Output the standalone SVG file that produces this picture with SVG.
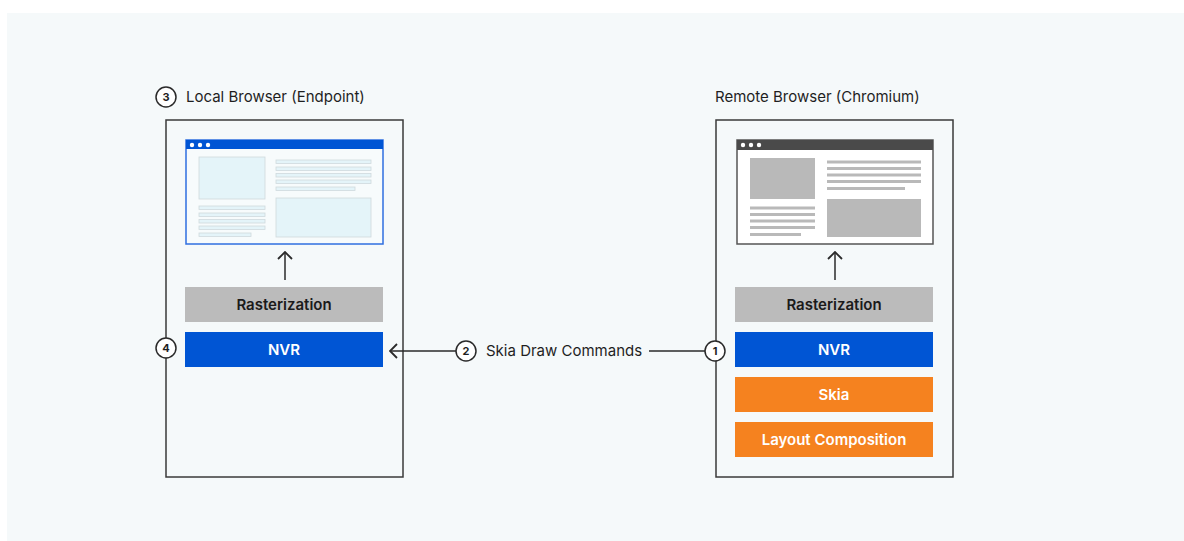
<svg xmlns="http://www.w3.org/2000/svg" width="1184" height="541" viewBox="0 0 1184 541">
<defs>
<style>
.lbl{font-family:Inter,"Liberation Sans",sans-serif;font-size:15px;fill:#1f1f1f}
.btn{font-family:Inter,"Liberation Sans",sans-serif;font-size:15px;font-weight:600;text-anchor:middle}
.num{font-family:Inter,"Liberation Sans",sans-serif;font-size:11px;font-weight:700;text-anchor:middle;fill:#1f1f1f}
.frame{fill:none;stroke:#3a3a3a;stroke-width:1.5}
.circ{fill:#ffffff;stroke:#2a2a2a;stroke-width:1.5}
.conn{fill:none;stroke:#2a2a2a;stroke-width:1.5}
.lb{fill:#e4f4f9;stroke:#cfd9dd;stroke-width:0.8}
.gb{fill:#b9b9b9}
</style>
<marker id="chev" viewBox="0 0 12 16" refX="11" refY="8" markerWidth="12" markerHeight="16" markerUnits="userSpaceOnUse" orient="auto">
<path d="M4,1 L11,8 L4,15" fill="none" stroke="#2a2a2a" stroke-width="1.8"/>
</marker>
</defs>
<rect x="0" y="0" width="1184" height="541" fill="#ffffff"/>
<rect x="7" y="13" width="1177" height="528" fill="#f5f9fa"/>

<g id="local-browser">
<rect class="frame" x="166" y="120" width="237" height="357"/>
<circle class="circ" cx="166" cy="97" r="10"/>
<text class="num" x="166" y="101">3</text>
<text class="lbl" x="186" y="102">Local Browser (Endpoint)</text>
<g id="local-mockup">
<rect x="186" y="140" width="197" height="104" fill="#f7fbfc" stroke="#2f6fe0" stroke-width="1.5"/>
<rect x="186" y="140" width="197" height="9" fill="#0055d4"/>
<circle cx="192" cy="145" r="2.2" fill="#fff"/>
<circle cx="200" cy="145" r="2.2" fill="#fff"/>
<circle cx="208" cy="145" r="2.2" fill="#fff"/>
<rect class="lb" x="199" y="157" width="66" height="42"/>
<rect class="lb" x="199" y="206" width="66" height="3.5"/>
<rect class="lb" x="199" y="213" width="66" height="3.5"/>
<rect class="lb" x="199" y="219.5" width="66" height="3.5"/>
<rect class="lb" x="199" y="226" width="66" height="3.5"/>
<rect class="lb" x="199" y="233" width="52" height="3.5"/>
<rect class="lb" x="276" y="160" width="95" height="3.5"/>
<rect class="lb" x="276" y="167" width="95" height="3.5"/>
<rect class="lb" x="276" y="173.5" width="95" height="3.5"/>
<rect class="lb" x="276" y="180" width="95" height="3.5"/>
<rect class="lb" x="276" y="187" width="79" height="3.5"/>
<rect class="lb" x="276" y="198" width="95" height="39"/>
</g>
<rect x="185" y="287" width="198" height="35" fill="#bbbbbb"/>
<text class="btn" x="284" y="310" fill="#1a1a1a">Rasterization</text>
<rect x="185" y="332" width="198" height="35" fill="#0055d4"/>
<text class="btn" x="284" y="355" fill="#ffffff">NVR</text>
<circle class="circ" cx="166" cy="348" r="10"/>
<text class="num" x="166" y="352">4</text>
</g>

<g id="remote-browser">
<rect class="frame" x="716" y="120" width="237" height="357"/>
<text class="lbl" x="715" y="102">Remote Browser (Chromium)</text>
<g id="remote-mockup">
<rect x="737" y="140" width="196" height="104" fill="#ffffff" stroke="#555555" stroke-width="1.5"/>
<rect x="737" y="140" width="196" height="10" fill="#4a4a4a"/>
<circle cx="743" cy="145" r="2.2" fill="#fff"/>
<circle cx="751" cy="145" r="2.2" fill="#fff"/>
<circle cx="759" cy="145" r="2.2" fill="#fff"/>
<rect class="gb" x="750" y="158" width="65" height="41"/>
<rect class="gb" x="750" y="206.5" width="65" height="3"/>
<rect class="gb" x="750" y="213" width="65" height="3"/>
<rect class="gb" x="750" y="219.5" width="65" height="3"/>
<rect class="gb" x="750" y="226" width="65" height="3"/>
<rect class="gb" x="750" y="233" width="51" height="3"/>
<rect class="gb" x="827" y="160.5" width="94" height="3"/>
<rect class="gb" x="827" y="167" width="94" height="3"/>
<rect class="gb" x="827" y="173.5" width="94" height="3"/>
<rect class="gb" x="827" y="180" width="94" height="3"/>
<rect class="gb" x="827" y="187" width="78" height="3"/>
<rect class="gb" x="827" y="199" width="94" height="38"/>
</g>
<rect x="735" y="287" width="198" height="35" fill="#bbbbbb"/>
<text class="btn" x="834" y="310" fill="#1a1a1a">Rasterization</text>
<rect x="735" y="332" width="198" height="35" fill="#0055d4"/>
<text class="btn" x="834" y="355" fill="#ffffff">NVR</text>
<rect x="735" y="377" width="198" height="35" fill="#f5821f"/>
<text class="btn" x="834" y="400" fill="#ffffff">Skia</text>
<rect x="735" y="422" width="198" height="35" fill="#f5821f"/>
<text class="btn" x="834" y="445" fill="#ffffff">Layout Composition</text>
</g>

<g id="connectors">
<line class="conn" x1="285" y1="280" x2="285" y2="252" marker-end="url(#chev)"/>
<line class="conn" x1="835" y1="280" x2="835" y2="252" marker-end="url(#chev)"/>
<line class="conn" x1="705" y1="351" x2="649" y2="351"/>
<line class="conn" x1="456" y1="351" x2="390" y2="351" marker-end="url(#chev)"/>
</g>

<g id="connector-label">
<circle class="circ" cx="715" cy="351" r="10"/>
<text class="num" x="715" y="355">1</text>
<circle class="circ" cx="466" cy="351" r="10"/>
<text class="num" x="466" y="355">2</text>
<text class="lbl" x="486" y="356">Skia Draw Commands</text>
</g>
</svg>
